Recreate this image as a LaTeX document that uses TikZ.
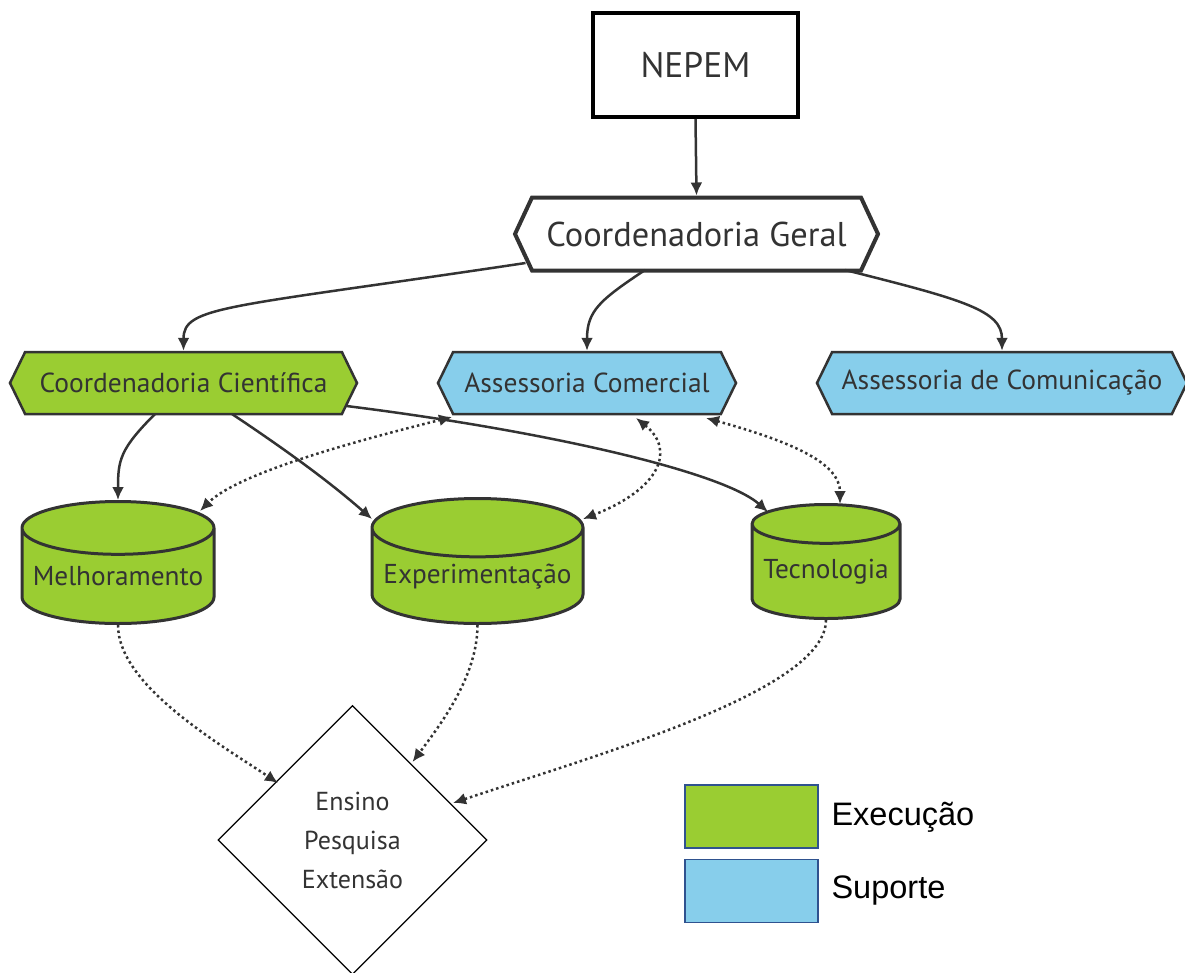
\documentclass[tikz,border=0pt]{standalone}
\usepackage{fontspec}
\setmainfont{PT Sans}
\newfontfamily\legendfont{Liberation Sans}
\usetikzlibrary{positioning}
\usetikzlibrary{shapes.geometric}
\usetikzlibrary{shapes.symbols}
\usetikzlibrary{arrows.meta}
\definecolor{execgreen}{HTML}{9ACD32}
\definecolor{supblue}{HTML}{87CEEB}
\definecolor{edgegray}{HTML}{333333}
\definecolor{legendline}{HTML}{2F528F}

\begin{document}
\begin{tikzpicture}[x=1pt, y=-1pt,
topnode/.style={rectangle, draw=black, fill=white, line width=4pt, minimum width=205pt, minimum height=104pt, font=\fontsize{35.5}{40}\selectfont, text=edgegray},
hexnode/.style={signal, signal to=east and west, signal pointer angle=128, draw=edgegray, line width=2.5pt, minimum height=62pt, font=\fontsize{27.5}{32}\selectfont, text=edgegray, inner sep=0pt},
cylnode/.style={cylinder, shape border rotate=90, aspect=0.31, draw=edgegray, fill=execgreen, line width=3pt, font=\fontsize{27.3}{32}\selectfont, text=edgegray, inner sep=0pt, anchor=north},
legendbox/.style={rectangle, draw=legendline, line width=1.5pt, minimum width=133pt, minimum height=63pt},
solidedge/.style={draw=edgegray, line width=2.5pt, -{Latex[length=13pt,width=12pt]}},
dotedge/.style={draw=edgegray, line width=2.5pt, dash pattern=on 2.5pt off 3pt, -{Latex[length=13pt,width=12pt]}},
dualedge/.style={dotedge, {Latex[length=13pt,width=12pt]}-{Latex[length=13pt,width=12pt]}}]
\useasboundingbox (0,0) rectangle (1185,972);

\node[topnode] (nepem) at (695.5,65) {NEPEM};
\node[hexnode, fill=white, line width=4pt, minimum height=73pt, minimum width=363pt, signal pointer angle=130, font=\fontsize{34.4}{40}\selectfont] (geral) at (696.5,234) {Coordenadoria Geral};
\node[hexnode, fill=execgreen, minimum width=347pt] (cient) at (183.5,383) {Coordenadoria Científica};
\node[hexnode, fill=supblue, minimum width=298pt] (comer) at (587,383) {Assessoria Comercial};
\node[hexnode, fill=supblue, minimum width=370pt] (comun) at (1002,383) {Assessoria de Comunicação};

\node[cylnode, minimum width=192pt, minimum height=122pt] (melh) at (118,500) {Melhoramento};
\node[cylnode, minimum width=211pt, minimum height=125pt] (exper) at (477.5,497) {Experimentação};
\node[cylnode, minimum width=148pt, minimum height=114pt] (tecno) at (826,503) {Tecnologia};

\node[diamond, draw=black, fill=white, line width=1.2pt, minimum width=269pt, minimum height=269pt, align=center, font=\fontsize{26}{39}\selectfont, text=edgegray] (tripe) at (352.5,840) {Ensino\\Pesquisa\\Extensão};

% legenda
\node[legendbox, fill=execgreen] (legexec) at (751.5,816.5) {};
\node[legendbox, fill=supblue] (legsup) at (751.5,891) {};
\node[anchor=west, font=\legendfont\fontsize{32.5}{36}\selectfont] (txtexec) at (828,817) {Execução};
\node[anchor=west, font=\legendfont\fontsize{32.5}{36}\selectfont] (txtsup) at (828,891) {Suporte};

\draw[solidedge] (nepem.south) -- (geral.north);
\draw[solidedge] ([xshift=-171pt, yshift=-29pt]geral.center) .. controls +(-300,45) and +(0,-45) .. (cient.north);
\draw[solidedge] ([xshift=-51.5pt, yshift=-36pt]geral.center) .. controls +(-45,30) and +(0,-40) .. (comer.north);
\draw[solidedge] ([xshift=148.5pt, yshift=-36pt]geral.center) .. controls +(120,30) and +(0,-40) .. (comun.north);

\draw[solidedge] ([xshift=-28.5pt, yshift=-31pt]cient.center) .. controls +(-35,35) and +(0,-40) .. (melh.north);
\draw[solidedge] ([xshift=48.5pt, yshift=-31pt]cient.center) .. controls +(60,40) and +(-40,-35) .. ([xshift=-105.5pt, yshift=-22pt]exper.north);
\draw[solidedge] ([xshift=163pt, yshift=-23pt]cient.center) .. controls +(200,25) and +(-45,-40) .. ([xshift=-58pt, yshift=-9pt]tecno.north);

\draw[dualedge] ([xshift=-135pt, yshift=-34pt]comer.center) .. controls +(-80,20) and +(40,-40) .. ([xshift=82pt, yshift=-11pt]melh.north);
\draw[dualedge] ([xshift=49pt, yshift=-35pt]comer.center) .. controls +(40,32) and +(77,-30) .. ([xshift=105.5pt, yshift=-22pt]exper.north);
\draw[dualedge] ([xshift=119pt, yshift=-35pt]comer.center) .. controls +(90,25) and +(0,-40) .. ([xshift=14pt, yshift=-1pt]tecno.north);

\draw[dotedge] (melh.south) .. controls +(0,60) and +(-60,-40) .. ([xshift=-74.5pt, yshift=57pt]tripe.center);
\draw[dotedge] (exper.south) .. controls +(0,50) and +(30,-40) .. ([xshift=60pt, yshift=78pt]tripe.center);
\draw[dotedge] (tecno.south) .. controls +(0,70) and +(150,-50) .. ([xshift=100.5pt, yshift=37pt]tripe.center);
\end{tikzpicture}
\end{document}
